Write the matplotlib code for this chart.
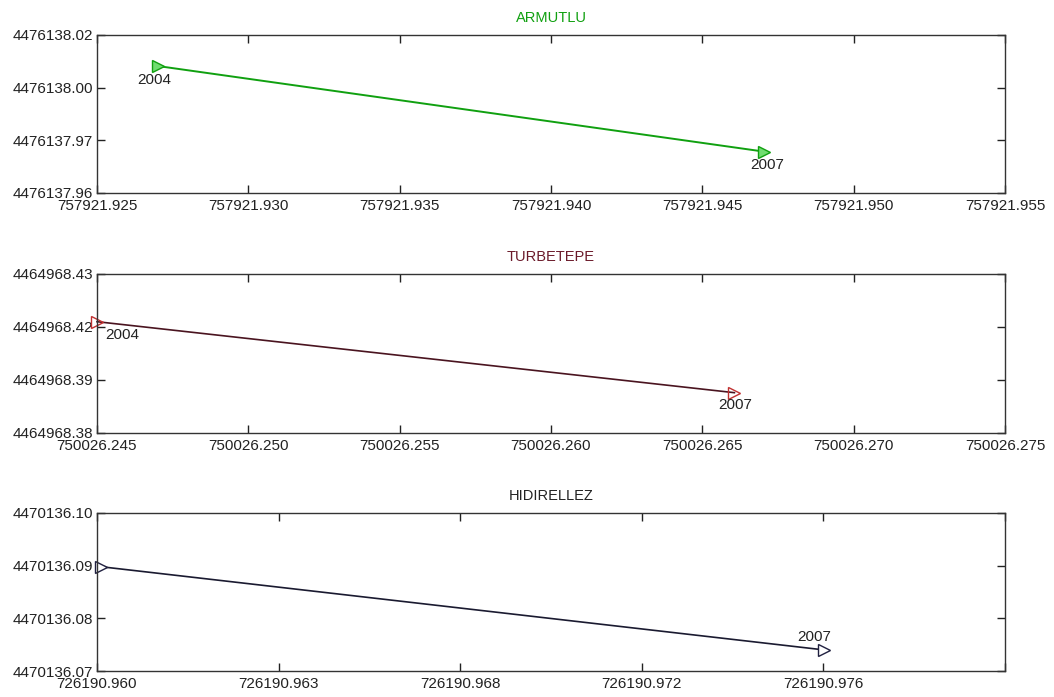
import numpy as np
import matplotlib
matplotlib.use("Agg")
import matplotlib.pyplot as plt

plt.rcParams['font.family'] = ['Liberation Sans', 'DejaVu Sans']

# Station names and years
stations = ["ARMUTLU", "TURBETEPE", "HIDIRELLEZ"]
years = ["2004", "2007"]

# Coordinates (x = easting, y = northing)
armutlu_x = [757921.92702, 757921.94705]
armutlu_y = [4476138.0082, 4476137.9757]
turbetepe_x = [750026.2450, 750026.26606]
turbetepe_y = [4464968.4150, 4464968.39267]
hidirellez_x = [726190.96009, 726190.97602]
hidirellez_y = [4470136.0898, 4470136.0740]

# Axis ticks and tick labels as printed
armutlu_xticks = [757921.925, 757921.930, 757921.935, 757921.940, 757921.945, 757921.950, 757921.955]
armutlu_xlabels = ["757921.925", "757921.930", "757921.935", "757921.940", "757921.945", "757921.950", "757921.955"]
armutlu_yticks = [4476137.96, 4476137.98, 4476138.00, 4476138.02]
armutlu_ylabels = ["4476137.96", "4476137.97", "4476138.00", "4476138.02"]

turbetepe_xticks = [750026.245, 750026.250, 750026.255, 750026.260, 750026.265, 750026.270, 750026.275]
turbetepe_xlabels = ["750026.245", "750026.250", "750026.255", "750026.260", "750026.265", "750026.270", "750026.275"]
turbetepe_ylim = [4464968.38, 4464968.43]
turbetepe_ylabels = ["4464968.38", "4464968.39", "4464968.42", "4464968.43"]

hidirellez_xticks = [726190.960, 726190.964, 726190.968, 726190.972, 726190.976, 726190.980]
hidirellez_xlabels = ["726190.960", "726190.963", "726190.968", "726190.972", "726190.976", ""]
hidirellez_yticks = [4470136.07, 4470136.08, 4470136.09, 4470136.10]
hidirellez_ylabels = ["4470136.07", "4470136.08", "4470136.09", "4470136.10"]

fig = plt.figure(figsize=(10.54, 6.97), dpi=100)

def setup(ax, xticks, xlabels, yticks, ylabels, title, tcolor):
    ax.set_xlim(xticks[0], xticks[-1])
    ax.set_ylim(yticks[0], yticks[-1])
    ax.set_xticks(xticks)
    ax.set_xticklabels(xlabels)
    ax.set_yticks(yticks)
    ax.set_yticklabels(ylabels)
    ax.tick_params(direction="in", length=6, width=1, top=True, right=True,
                   labelsize=11, pad=3, colors="#222222")
    ax.tick_params(axis="x", pad=4)
    for s in ax.spines.values():
        s.set_color("#333333")
        s.set_linewidth(1)
    ax.set_title(title, fontsize=10.5, color=tcolor, pad=9)

left, width = 0.092, 0.8615

# ARMUTLU
ax1 = fig.add_axes([left, 0.7231, width, 0.2267])
ax1.plot(armutlu_x, armutlu_y, color="#10a010", lw=1.4, marker=">", ms=8,
         mfc="#70dd70", mec="#10a010")
setup(ax1, armutlu_xticks, armutlu_xlabels, armutlu_yticks, armutlu_ylabels,
      stations[0], "#10a010")
ax1.annotate(years[0], (armutlu_x[0], armutlu_y[0]), xytext=(-4, -14),
             textcoords="offset pixels", ha="center", va="center", fontsize=11, color="#222222")
ax1.annotate(years[1], (armutlu_x[1], armutlu_y[1]), xytext=(3, -13),
             textcoords="offset pixels", ha="center", va="center", fontsize=11, color="#222222")

# TURBETEPE
ax2 = fig.add_axes([left, 0.3788, width, 0.2281])
ax2.plot(turbetepe_x, turbetepe_y, color="#4a1420", lw=1.2, marker=">", ms=8,
         mfc="none", mec="#c03030", clip_on=False)
t2_yticks = np.linspace(turbetepe_ylim[0], turbetepe_ylim[1], len(turbetepe_ylabels))
setup(ax2, turbetepe_xticks, turbetepe_xlabels, t2_yticks, turbetepe_ylabels,
      stations[1], "#6b1a2a")
ax2.annotate(years[0], (turbetepe_x[0], turbetepe_y[0]), xytext=(25, -13),
             textcoords="offset pixels", ha="center", va="center", fontsize=11, color="#222222")
ax2.annotate(years[1], (turbetepe_x[1], turbetepe_y[1]), xytext=(1, -12),
             textcoords="offset pixels", ha="center", va="center", fontsize=11, color="#222222")

# HIDIRELLEZ
ax3 = fig.add_axes([left, 0.0373, width, 0.2267])
ax3.plot(hidirellez_x, hidirellez_y, color="#1a1a30", lw=1.2, marker=">", ms=8,
         mfc="white", mec="#202040", clip_on=False)
setup(ax3, hidirellez_xticks, hidirellez_xlabels, hidirellez_yticks, hidirellez_ylabels,
      stations[2], "#222222")
ax3.annotate(years[1], (hidirellez_x[1], hidirellez_y[1]), xytext=(-10, 13),
             textcoords="offset pixels", ha="center", va="center", fontsize=11, color="#222222")

fig.savefig("out.png", dpi=100, facecolor="white")
